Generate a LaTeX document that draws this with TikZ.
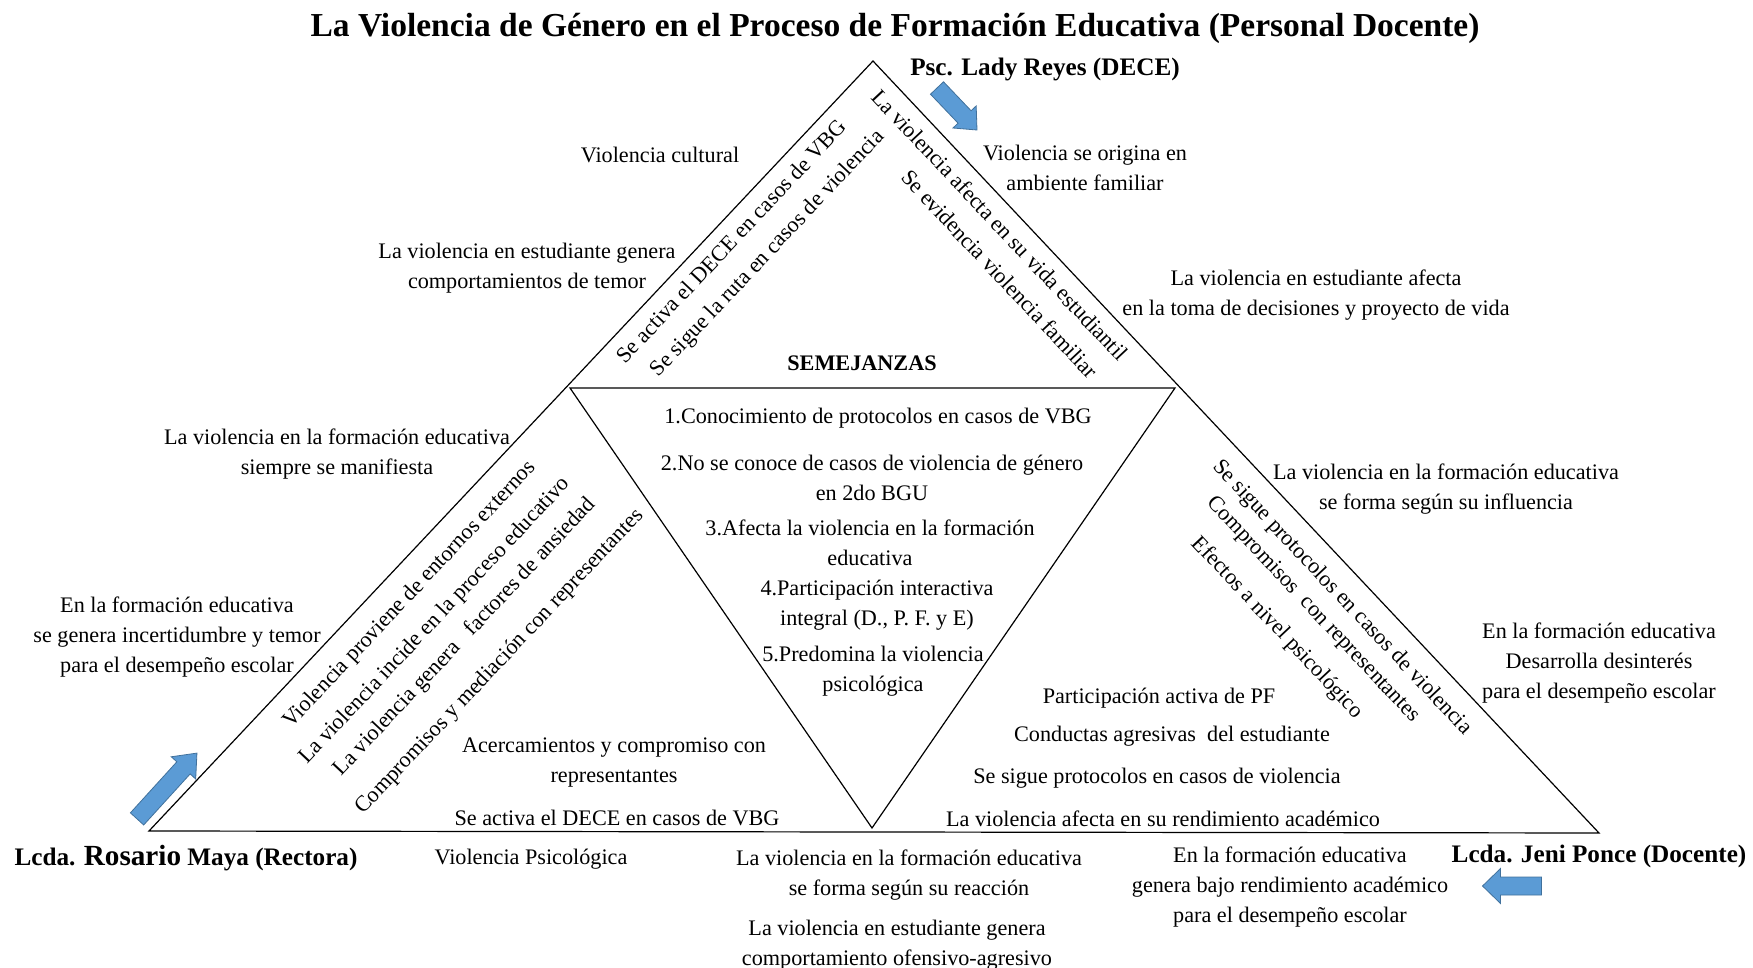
\documentclass[tikz,border=0pt]{standalone}
\usepackage{fontspec}
\setmainfont{Liberation Serif}
\definecolor{arrowblue}{HTML}{5B9BD5}
\definecolor{arrowedge}{HTML}{41719C}
\newcommand{\bodyfont}{\fontsize{11.1}{15}\selectfont}
\newcommand{\namefont}{\fontsize{12.6}{15}\selectfont\bfseries}

\begin{document}
\begin{tikzpicture}[
  x=0.5pt,
  y=-0.5pt,
  edge/.style={black, line width=0.6pt},
  txt/.style={font=\bodyfont, align=center, inner sep=1pt},
  uptxt/.style={txt, rotate=46.8},
  downtxt/.style={txt, rotate=-46.8},
  person/.style={font=\namefont, inner sep=1pt},
  heading/.style={font=\fontsize{16.75}{19}\selectfont\bfseries, inner sep=1pt},
  blockarrow/.style={draw=arrowedge, fill=arrowblue, line width=0.4pt, line join=miter}
]
  \useasboundingbox (0,0) rectangle (1753,968);

  % ---- triangles -------------------------------------------------------
  \coordinate (apex) at (873,61);
  \coordinate (bl) at (149,831);
  \coordinate (br) at (1599,833);
  \coordinate (il) at (570,388);
  \coordinate (ir) at (1175,388);
  \coordinate (ib) at (872,828);
  \draw[edge] (apex) -- (br) -- (bl) -- cycle;
  \draw[edge] (il) -- (ir) -- (ib) -- cycle;

  % ---- title and persons -----------------------------------------------
  \node[heading] (title) at (895,28)
    {La Violencia de Género en el Proceso de Formación Educativa (Personal Docente)};
  \node[person] (dece) at (1045,69) {Psc. Lady Reyes (DECE)};
  \node[person] (rectora) at (186,858)
    {Lcda. {\fontsize{14.6}{15}\selectfont Rosario} Maya (Rectora)};
  \node[person] (docente) at (1599,856) {Lcda. Jeni Ponce (Docente)};

  % ---- block arrows ----------------------------------------------------
  \draw[blockarrow, shift={(957,109)}, rotate=-46.4]
    (-29,-9) -- (11,-9) -- (11,-16) -- (29,0) -- (11,16) -- (11,9) -- (-29,9) -- cycle;
  \draw[blockarrow, shift={(167,786)}, rotate=47.7]
    (-44.5,-9) -- (24.5,-9) -- (24.5,-16.5) -- (44.5,0) -- (24.5,16.5) -- (24.5,9) -- (-44.5,9) -- cycle;
  \draw[blockarrow, shift={(1512,886)}, rotate=180]
    (-29.5,-9) -- (11.5,-9) -- (11.5,-17.5) -- (29.5,0) -- (11.5,17.5) -- (11.5,9) -- (-29.5,9) -- cycle;

  % ---- top: Psc. Lady Reyes --------------------------------------------
  \node[txt] (cultural) at (660,155) {Violencia cultural};
  \node[txt] (temor) at (527,268)
    {La violencia en estudiante genera\\comportamientos de temor};
  \node[txt] (origen) at (1085,168) {Violencia se origina en\\ambiente familiar};
  \node[txt] (proyecto) at (1316,295)
    {La violencia en estudiante afecta\\en la toma de decisiones y proyecto de vida};
  \node[uptxt] (activa) at (731,241) {Se activa el DECE en casos de VBG};
  \node[uptxt] (ruta) at (768,254) {Se sigue la ruta en casos de violencia};
  \node[downtxt] (vida) at (1000,225) {La violencia afecta en su vida estudiantil};
  \node[downtxt] (familiar) at (1000,274) {Se evidencia violencia familiar};

  % ---- semejanzas ------------------------------------------------------
  \node[txt, font=\bodyfont\bfseries] (semejanzas) at (862,363) {SEMEJANZAS};
  \node[txt] (sem1) at (878,418) {1.Conocimiento de protocolos en casos de VBG};
  \node[txt] (sem2) at (872,478)
    {2.No se conoce de casos de violencia de género\\en 2do BGU};
  \node[txt] (sem3) at (870,543) {3.Afecta la violencia en la formación\\educativa};
  \node[txt] (sem4) at (877,605) {4.Participación interactiva\\integral (D., P. F. y E)};
  \node[txt] (sem5) at (873,671) {5.Predomina la violencia\\psicológica};

  % ---- left: Lcda. Rosario Maya ----------------------------------------
  \node[txt] (manifiesta) at (337,454)
    {La violencia en la formación educativa\\siempre se manifiesta};
  \node[txt] (incertidumbre) at (177,637)
    {En la formación educativa\\se genera incertidumbre y temor\\para el desempeño escolar};
  \node[uptxt] (externos) at (410,595) {Violencia proviene de entornos externos};
  \node[uptxt] (incide) at (435,621) {La violencia incide en la proceso educativo};
  \node[uptxt] (ansiedad) at (465,637) {La violencia genera\ \ \ factores de ansiedad};
  \node[uptxt] (mediacion) at (500,662) {Compromisos y mediación con representantes};
  \node[txt] (acercamientos) at (614,763) {Acercamientos y compromiso con\\representantes};
  \node[txt] (activabase) at (617,818) {Se activa el DECE en casos de VBG};
  \node[txt] (psicologica) at (531,859) {Violencia Psicológica};

  % ---- right: Lcda. Jeni Ponce -----------------------------------------
  \node[txt] (influencia) at (1446,489)
    {La violencia en la formación educativa\\se forma según su influencia};
  \node[txt] (desinteres) at (1599,663)
    {En la formación educativa\\Desarrolla desinterés\\para el desempeño escolar};
  \node[downtxt] (protocolos) at (1342,598) {Se sigue protocolos en casos de violencia};
  \node[downtxt] (compromisos) at (1313,610) {Compromisos\ \ con representantes};
  \node[downtxt] (efectos) at (1277,628) {Efectos a nivel psicológico};
  \node[txt] (activapf) at (1159,698) {Participación activa de PF};
  \node[txt] (conductas) at (1172,736) {Conductas agresivas\ \ del estudiante};
  \node[txt] (sigue) at (1157,778) {Se sigue protocolos en casos de violencia};
  \node[txt] (rendimiento) at (1163,819) {La violencia afecta en su rendimiento académico};

  % ---- bottom ----------------------------------------------------------
  \node[txt] (reaccion) at (909,875)
    {La violencia en la formación educativa\\se forma según su reacción};
  \node[txt] (ofensivo) at (897,945)
    {La violencia en estudiante genera\\comportamiento ofensivo-agresivo};
  \node[txt] (bajo) at (1290,887)
    {En la formación educativa\\genera bajo rendimiento académico\\para el desempeño escolar};
\end{tikzpicture}
\end{document}
